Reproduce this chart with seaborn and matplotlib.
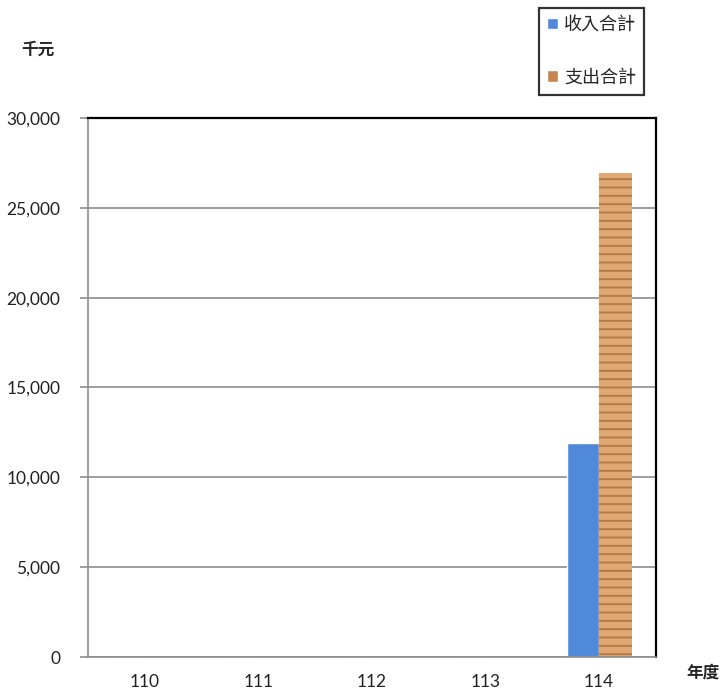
import pandas as pd
import seaborn as sns
import matplotlib.pyplot as plt
from matplotlib.ticker import FuncFormatter, FixedLocator
from matplotlib.patches import Patch

# data (thousand NTD)
years = ['110', '111', '112', '113', '114']
income = [0, 0, 0, 0, 11900]
expense = [0, 0, 0, 0, 26950]
series = ['收入合計', '支出合計']

df = pd.DataFrame({
    'year': years * 2,
    'series': [series[0]] * len(years) + [series[1]] * len(years),
    'value': income + expense,
})

sns.set_theme(style='white')
plt.rcParams['font.family'] = ['Lato', 'Noto Sans CJK TC', 'DejaVu Sans']
plt.rcParams['hatch.linewidth'] = 1.4
plt.rcParams['hatch.color'] = '#a5692f'

blue = '#5189DA'
wood = '#DFA874'

fig = plt.figure(figsize=(7.23, 6.94), dpi=100)
ax = fig.add_axes([0.1217, 0.0533, 0.7856, 0.7767])

sns.barplot(data=df, x='year', y='value', hue='series', palette=[blue, wood],
            width=0.57, gap=0, saturation=1, legend=False, ax=ax)

# fake wood grain on the expense bars
for bar in ax.containers[1]:
    bar.set_hatch('--')
    bar.set_edgecolor('#b47a45')
    bar.set_linewidth(0)

ax.set_ylim(0, 30000)
ax.set_xlim(-0.5, 4.5)
ax.yaxis.set_major_locator(FixedLocator(range(0, 30001, 5000)))
ax.yaxis.set_major_formatter(FuncFormatter(lambda v, p: f'{int(v):,}'))
ax.grid(axis='y', color='#8c8c8c', linewidth=1.2)
ax.set_axisbelow(True)

# ticks between categories
ax.set_xticks([i - 0.5 for i in range(6)], minor=True)
ax.tick_params(axis='x', which='major', length=0, pad=12, labelsize=12.5, colors='#222222')
ax.tick_params(axis='x', which='minor', length=6, width=1.2, color='#8c8c8c', direction='out')
ax.tick_params(axis='y', length=6, width=1.2, color='#8c8c8c', labelsize=12.5,
               labelcolor='#222222', pad=14, left=True)
ax.set_xlabel('')
ax.set_ylabel('')

for side in ['left', 'bottom']:
    ax.spines[side].set_color('#8c8c8c')
    ax.spines[side].set_linewidth(1.2)
for side in ['top', 'right']:
    ax.spines[side].set_color('black')
    ax.spines[side].set_linewidth(1.6)

fig.text(38 / 723, 1 - 50 / 694, '千元', fontsize=12, fontweight='bold',
         family=['Noto Sans CJK TC'], ha='center', va='center')
fig.text(703 / 723, 1 - 673 / 694, '年度', fontsize=12, fontweight='bold',
         family=['Noto Sans CJK TC'], ha='center', va='center')

handles = [Patch(facecolor=blue, label=series[0]),
           Patch(facecolor='#C8844F', label=series[1])]
leg = fig.legend(handles=handles, loc='upper left', bbox_to_anchor=(539 / 723, 1 - 8 / 694),
                 borderaxespad=0, frameon=True, fancybox=False, edgecolor='black',
                 handlelength=0.6, handleheight=0.6, handletextpad=0.35, labelspacing=1.9,
                 borderpad=0.45, prop={'family': ['Noto Sans CJK TC'], 'size': 13})
leg.get_frame().set_linewidth(1.6)

fig.savefig('out.png', dpi=100)
